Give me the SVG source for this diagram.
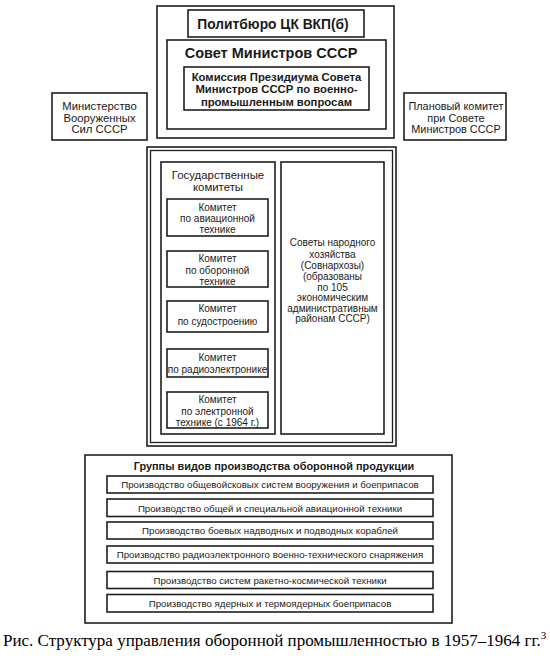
<svg xmlns="http://www.w3.org/2000/svg" width="550" height="658" viewBox="0 0 550 658">
<style>
  .bx{fill:none;stroke:#1e1e1e;stroke-width:1.6}
  .thin{fill:none;stroke:#1e1e1e;stroke-width:1.3}
  text{font-family:"Liberation Sans",Arial,sans-serif;fill:#1a1a1a;text-anchor:middle}
  .b{font-weight:bold}
  .t11{font-size:10px}
  .t10{font-size:9.7px}
  .cap{font-family:"Liberation Serif","Times New Roman",serif;font-size:17px;text-anchor:start;fill:#000}
</style>
<rect width="550" height="658" fill="#fff"/>

<g id="top-block">
  <rect class="bx" x="157" y="6" width="237" height="132"/>
</g>
<g id="politburo">
  <rect class="bx" x="188" y="10" width="176" height="27"/>
  <text class="b" x="273" y="28.5" font-size="13.8">Политбюро ЦК ВКП(б)</text>
</g>
<g id="sovmin">
  <rect class="bx" x="167" y="40" width="219" height="89"/>
  <text class="b" x="271" y="57.5" font-size="14.5">Совет Министров СССР</text>
</g>
<g id="commission">
  <rect class="bx" x="184" y="67" width="185" height="43"/>
  <text class="b" font-size="11.3"><tspan x="276.5" y="81">Комиссия Президиума Совета</tspan><tspan x="276.5" y="93">Министров СССР по военно-</tspan><tspan x="276.5" y="105.5">промышленным вопросам</tspan></text>
</g>
<g id="ministry">
  <rect class="bx" x="52" y="93" width="95" height="47"/>
  <text font-size="11.3"><tspan x="99.5" y="110">Министерство</tspan><tspan x="99.5" y="121.5">Вооруженных</tspan><tspan x="99.5" y="133">Сил СССР</tspan></text>
</g>
<g id="gosplan">
  <rect class="bx" x="404" y="93" width="102" height="47"/>
  <text font-size="10.9"><tspan x="456" y="110">Плановый комитет</tspan><tspan x="456" y="121.5">при Совете</tspan><tspan x="456" y="133">Министров СССР</tspan></text>
</g>

<g id="middle-frame">
  <rect class="bx" x="147" y="147" width="249" height="299"/>
  <rect class="thin" x="150.5" y="150.5" width="242" height="292"/>
</g>
<g id="state-committees">
  <rect class="bx" x="161" y="162" width="114" height="272"/>
  <text font-size="11.4"><tspan x="218" y="179">Государственные</tspan><tspan x="218" y="191">комитеты</tspan></text>
</g>
<g id="com-aviation">
  <rect class="bx" x="167" y="199" width="101" height="37"/>
  <text class="t11"><tspan x="217.5" y="210.5">Комитет</tspan><tspan x="217.5" y="222">по авиационной</tspan><tspan x="217.5" y="233">технике</tspan></text>
</g>
<g id="com-defense">
  <rect class="bx" x="167" y="251" width="101" height="36"/>
  <text class="t11"><tspan x="217.5" y="262">Комитет</tspan><tspan x="217.5" y="273.5">по оборонной</tspan><tspan x="217.5" y="284.5">технике</tspan></text>
</g>
<g id="com-ship">
  <rect class="bx" x="167" y="301" width="101" height="31"/>
  <text class="t11"><tspan x="217.5" y="312">Комитет</tspan><tspan x="217.5" y="324.5">по судостроению</tspan></text>
</g>
<g id="com-radio">
  <rect class="bx" x="167" y="349" width="101" height="28"/>
  <text class="t11"><tspan x="217.5" y="360.5">Комитет</tspan><tspan x="217.5" y="372.5">по радиоэлектронике</tspan></text>
</g>
<g id="com-electronic">
  <rect class="bx" x="167" y="392" width="101" height="36"/>
  <text class="t11"><tspan x="217.5" y="402.5">Комитет</tspan><tspan x="217.5" y="414.5">по электронной</tspan><tspan x="217.5" y="425.5">технике (с 1964 г.)</tspan></text>
</g>
<g id="sovnarkhozy">
  <rect class="bx" x="281" y="162" width="103" height="272"/>
  <text class="t11"><tspan x="332.5" y="246">Советы народного</tspan><tspan x="332.5" y="257.5">хозяйства</tspan><tspan x="332.5" y="269">(Совнархозы)</tspan><tspan x="332.5" y="280">(образованы</tspan><tspan x="332.5" y="291">по 105</tspan><tspan x="332.5" y="301.4">экономическим</tspan><tspan x="332.5" y="311.7">административным</tspan><tspan x="332.5" y="322">районам СССР)</tspan></text>
</g>

<g id="production-groups">
  <rect class="bx" x="85" y="455" width="367" height="168"/>
  <text class="b" x="274" y="469.5" font-size="10.9">Группы видов производства оборонной продукции</text>
</g>
<g id="prod-1">
  <rect class="bx" x="107" y="476" width="326" height="17"/>
  <text class="t10" x="270" y="488">Производство общевойсковых систем вооружения и боеприпасов</text>
</g>
<g id="prod-2">
  <rect class="bx" x="107" y="499" width="326" height="17.5"/>
  <text class="t10" x="270" y="511.5">Производство общей и специальной авиационной техники</text>
</g>
<g id="prod-3">
  <rect class="bx" x="107" y="522" width="326" height="17"/>
  <text class="t10" x="270" y="534">Производство боевых надводных и подводных кораблей</text>
</g>
<g id="prod-4">
  <rect class="bx" x="107" y="546" width="326" height="17"/>
  <text class="t10" x="270" y="558">Производство радиоэлектронного военно-технического снаряжения</text>
</g>
<g id="prod-5">
  <rect class="bx" x="107" y="571.5" width="326" height="17"/>
  <text class="t10" x="270" y="583.5">Производство систем ракетно-космической техники</text>
</g>
<g id="prod-6">
  <rect class="bx" x="107" y="594.5" width="326" height="17.5"/>
  <text class="t10" x="270" y="607">Производство ядерных и термоядерных боеприпасов</text>
</g>

<g id="connectors"></g>

<text class="cap" x="3" y="646">Рис. Структура управления оборонной промышленностью в 1957–1964 гг.<tspan font-size="11" dy="-7">3</tspan></text>
</svg>
